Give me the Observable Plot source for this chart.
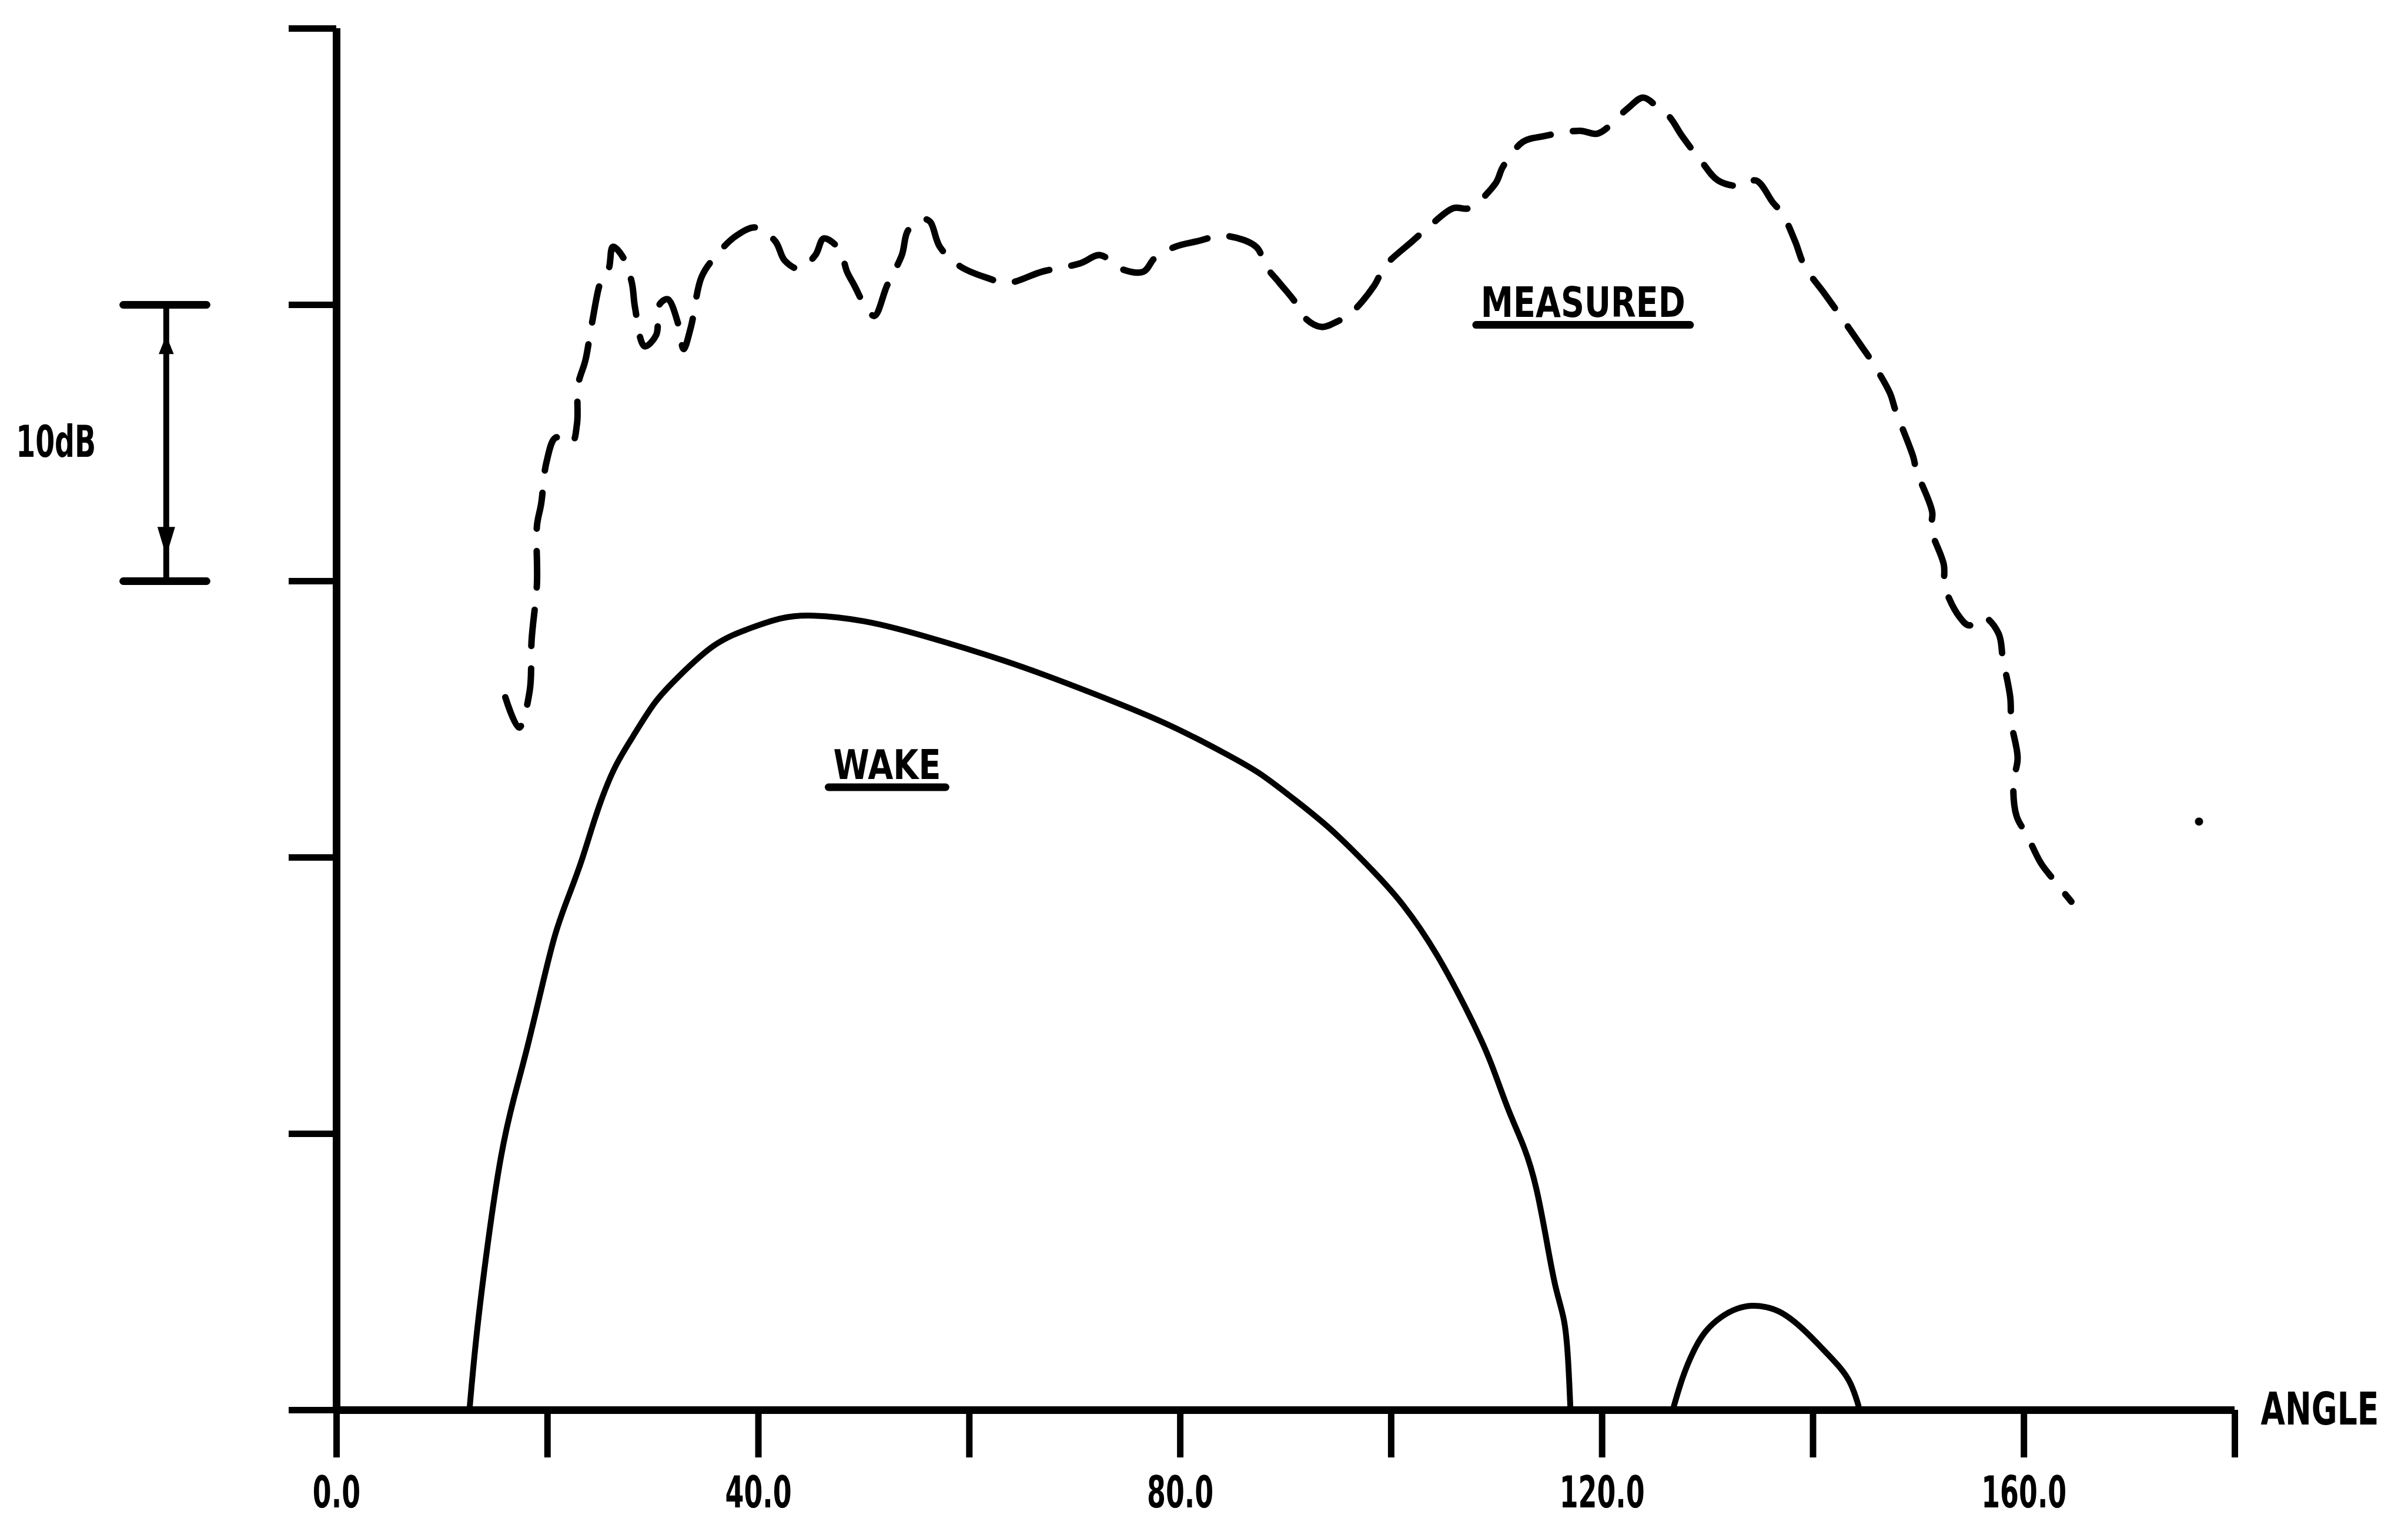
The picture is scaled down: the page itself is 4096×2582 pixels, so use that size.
<!DOCTYPE html>
<html>
<head>
<meta charset="utf-8">
<script src="https://cdn.jsdelivr.net/npm/d3@7"></script>
<script src="https://cdn.jsdelivr.net/npm/@observablehq/plot@0.6"></script>
<style>
  html, body { margin: 0; padding: 0; background: #fff; }
  #chart { width: 4096px; height: 2582px; overflow: hidden; }
  #chart svg { display: block; overflow: visible; }
</style>
</head>
<body>
<div id="chart"></div>
<script>
// Angle (degrees) and level (dB above the baseline of the plot).
const angleTicks = [0, 20, 40, 60, 80, 100, 120, 140, 160, 180];
const angleLabels = [0, 40, 80, 120, 160];
const levelTicks = [0, 10, 20, 30, 40, 50];

// Measured level against angle: [angle, dB]
const measured = [
  [16.0, 25.8], [17.3, 24.7], [18.3, 26.0], [18.5, 27.9], [19.0, 29.9], [19.0, 32.0],
  [19.4, 32.8], [19.9, 34.3], [20.8, 35.2], [22.3, 35.0], [22.8, 35.7], [22.9, 37.1],
  [23.6, 38.0], [24.2, 39.3], [25.1, 40.9], [25.8, 41.3], [26.2, 42.1], [27.2, 41.7],
  [28.0, 40.8], [28.3, 39.9], [29.2, 38.5], [30.3, 38.9], [30.6, 40.0], [31.4, 40.2],
  [32.4, 39.3], [32.9, 38.4], [33.6, 39.2], [34.6, 41.0], [35.8, 41.7], [37.9, 42.5],
  [39.8, 42.8], [41.6, 42.3], [42.5, 41.6], [43.9, 41.3], [45.4, 41.8], [46.2, 42.4],
  [47.7, 42.0], [48.4, 41.2], [49.1, 40.7], [50.2, 39.9], [51.0, 39.6], [52.2, 40.7],
  [53.6, 41.8], [54.2, 42.7], [55.7, 43.1], [56.3, 43.0], [57.2, 42.1], [59.1, 41.4],
  [61.5, 41.0], [63.7, 40.8], [66.9, 41.2], [70.5, 41.5], [72.4, 41.8], [74.4, 41.3],
  [76.5, 41.2], [77.6, 41.7], [79.5, 42.1], [81.6, 42.3], [84.2, 42.5], [87.2, 42.1],
  [88.1, 41.4], [89.4, 40.8], [90.9, 40.1], [91.9, 39.5], [93.4, 39.2], [94.9, 39.4],
  [96.2, 39.7], [98.4, 40.7], [99.4, 41.4], [102.0, 42.3], [103.5, 42.8], [105.9, 43.5],
  [107.4, 43.5], [109.9, 44.4], [110.6, 45.0], [112.5, 45.9], [114.4, 46.1], [117.9, 46.3],
  [119.6, 46.2], [122.4, 47.1], [123.9, 47.5], [125.4, 47.1], [126.4, 46.8], [127.6, 46.1],
  [129.4, 45.2], [131.0, 44.5], [133.1, 44.3], [134.6, 44.5], [136.2, 43.7], [137.1, 43.3],
  [138.3, 42.3], [139.2, 41.4], [141.1, 40.4], [142.6, 39.6], [144.6, 38.5], [145.5, 38.0],
  [147.3, 36.8], [147.8, 36.2], [149.5, 34.5], [149.8, 34.0], [151.3, 32.5], [151.2, 31.9],
  [152.4, 30.6], [152.5, 29.8], [153.9, 28.7], [154.8, 28.4], [156.2, 28.7], [157.6, 28.1],
  [158.0, 27.2], [158.7, 25.8], [158.8, 24.9], [159.4, 23.6], [159.0, 22.7], [159.3, 21.5],
  [160.3, 20.8], [161.6, 19.8], [162.8, 19.2], [164.5, 18.4]
];

// Predicted wake contribution: main lobe and the small side lobe
const wakeMainLobe = [
  [12.6, 0], [13.2, 2.6], [14.3, 6.0], [15.6, 9.4], [16.8, 11.3], [17.9, 12.8],
  [19.4, 15.2], [20.7, 17.3], [22.0, 18.6], [23.3, 19.9], [24.6, 21.6], [26.3, 23.3],
  [28.0, 24.3], [30.2, 25.7], [32.3, 26.5], [35.8, 27.8], [39.2, 28.3], [42.2, 28.7],
  [44.8, 28.8], [50.0, 28.6], [55.1, 28.1], [63.7, 27.1], [69.3, 26.3], [74.0, 25.6],
  [79.1, 24.8], [84.1, 23.8], [87.5, 23.1], [90.8, 22.1], [94.2, 21.1], [98.6, 19.4],
  [101.0, 18.4], [104.3, 16.6], [107.7, 14.1], [109.4, 12.7], [111.1, 10.8], [112.7, 9.5],
  [113.8, 8.1], [114.8, 6.0], [115.6, 4.3], [116.5, 3.3], [116.8, 1.8], [117.0, 0]
];
const wakeSideLobe = [
  [126.7, 0], [127.6, 1.2], [128.7, 2.2], [129.8, 2.9], [131.3, 3.4], [132.8, 3.7],
  [134.2, 3.8], [135.5, 3.75], [136.8, 3.6], [138.3, 3.2], [139.7, 2.7], [141.2, 2.1],
  [142.7, 1.5], [143.6, 1.0], [144.3, 0.2], [144.4, 0]
];

// Stray pen mark on the plot
const penMarks = [[176.6, 21.3]];

// Curve labels (drawn underlined)
const curveLabels = [
  {text: "MEASURED", angle: 108.5, level: 40.05},
  {text: "WAKE", angle: 47.1, level: 23.3}
];

// 10 dB scale bar beside the level axis
const scaleBar = {angle: -16.15, low: 30, high: 40, capFrom: -20.2, capTo: -12.3, label: "10dB", labelAngle: -30.4};

const FONT = '"DejaVu Sans", "Liberation Sans", sans-serif';

// Lettering is narrow, like plotter stencil text: fixed run lengths (px) for
// the labels, and a common squeeze for the angle tick labels.
const letterWidths = new Map([["MEASURED", 348], ["WAKE", 183], ["10dB", 136], ["ANGLE", 201]]);
const tickLabelSqueeze = 0.62;

// Slim filled arrowheads, drawn with the tip at the anchor point
const arrowUp = {
  draw(ctx, size) {
    const r = Math.sqrt(size / Math.PI);
    ctx.moveTo(0, 0); ctx.lineTo(0.8 * r, 2 * r); ctx.lineTo(-0.8 * r, 2 * r); ctx.closePath();
  }
};
const arrowDown = {
  draw(ctx, size) {
    const r = Math.sqrt(size / Math.PI);
    ctx.moveTo(0, 0); ctx.lineTo(0.6 * r, -2 * r); ctx.lineTo(-0.6 * r, -2 * r); ctx.closePath();
  }
};

const A = d => d[0], L = d => d[1];

const chart = Plot.plot({
  width: 4096,
  height: 2582,
  marginLeft: 572,
  marginRight: 295,
  marginTop: 48,
  marginBottom: 184,
  x: {domain: [0, 180], axis: null},
  y: {domain: [0, 50], axis: null},
  style: {background: "white", color: "black", fontFamily: FONT, overflow: "visible"},
  marks: [
    // axes
    Plot.axisX(angleTicks, {tickSize: 81, tickFormat: () => "", strokeWidth: 11, label: null}),
    Plot.axisX(angleLabels, {tickSize: 0, tickPadding: 113, tickFormat: d => d.toFixed(1), fontSize: 74, fontWeight: "bold", label: null}),
    Plot.axisY(levelTicks, {tickSize: 81, tickFormat: () => "", strokeWidth: 11, label: null}),
    Plot.ruleY([0], {x1: 0, x2: 180, strokeWidth: 13}),
    Plot.ruleX([0], {y1: 0, y2: 50, strokeWidth: 13}),
    Plot.text(["ANGLE"], {x: 180, y: 0, dx: 44, text: d => d, textAnchor: "start", lineAnchor: "middle", fontSize: 76, fontWeight: "bold"}),

    // 10 dB scale bar
    Plot.ruleX([scaleBar], {x: "angle", y1: "low", y2: "high", strokeWidth: 10}),
    Plot.ruleY([scaleBar.low, scaleBar.high], {x1: scaleBar.capFrom, x2: scaleBar.capTo, strokeWidth: 13, strokeLinecap: "round"}),
    Plot.dot([scaleBar], {x: "angle", y: d => d.high - 1.1, symbol: arrowUp, r: 16, fill: "black", stroke: "none"}),
    Plot.dot([scaleBar], {x: "angle", y: d => d.low + 0.9, symbol: arrowDown, r: 25, fill: "black", stroke: "none"}),
    Plot.text([scaleBar], {x: "labelAngle", y: d => (d.low + d.high) / 2, text: "label", textAnchor: "start", lineAnchor: "middle", fontSize: 74, fontWeight: "bold"}),

    // curves
    Plot.line(wakeMainLobe, {x: A, y: L, stroke: "black", strokeWidth: 10, curve: "basis", strokeLinejoin: "round"}),
    Plot.line(wakeSideLobe, {x: A, y: L, stroke: "black", strokeWidth: 10, curve: "basis", strokeLinejoin: "round"}),
    Plot.line(measured, {x: A, y: L, stroke: "black", strokeWidth: 11, strokeDasharray: "62,38", strokeLinecap: "round", strokeLinejoin: "round", curve: "catmull-rom"}),
    Plot.dot(penMarks, {x: A, y: L, r: 7, fill: "black", stroke: "none"}),

    // curve labels
    Plot.text(curveLabels, {x: "angle", y: "level", text: "text", fontSize: d => d.text === "WAKE" ? 69 : 71, textAnchor: "start", lineAnchor: "middle", fontWeight: "bold"})
  ]
});

document.getElementById("chart").append(chart);

const svgNS = "http://www.w3.org/2000/svg";

// Narrow a text horizontally about its anchor point by wrapping it in a scaled group
function squeeze(t, width) {
  const r = t.getBoundingClientRect();
  if (!r.width) return;
  const anchor = getComputedStyle(t).textAnchor;
  const ax = anchor === "end" ? r.right : anchor === "middle" ? (r.left + r.right) / 2 : r.left;
  const p = chart.createSVGPoint();
  p.x = ax; p.y = r.top;
  const q = p.matrixTransform(t.parentNode.getScreenCTM().inverse());
  const k = width / r.width;
  const g = document.createElementNS(svgNS, "g");
  g.setAttribute("transform", `translate(${q.x},0) scale(${k},1) translate(${-q.x},0)`);
  t.parentNode.insertBefore(g, t);
  g.appendChild(t);
}

for (const t of Array.from(chart.querySelectorAll("text"))) {
  const s = t.textContent;
  if (!s) continue;
  if (letterWidths.has(s)) squeeze(t, letterWidths.get(s));
  else if (angleLabels.some(a => a.toFixed(1) === s)) squeeze(t, t.getBoundingClientRect().width * tickLabelSqueeze);
}

// Underline the curve labels
const svgBox = chart.getBoundingClientRect();
for (const t of chart.querySelectorAll("text")) {
  if (!curveLabels.some(l => l.text === t.textContent)) continue;
  const b = t.getBoundingClientRect();
  const line = document.createElementNS(svgNS, "line");
  const y = b.bottom - svgBox.top - 3;
  line.setAttribute("x1", b.left - svgBox.left - 8);
  line.setAttribute("x2", b.right - svgBox.left + 8);
  line.setAttribute("y1", y);
  line.setAttribute("y2", y);
  line.setAttribute("stroke", "black");
  line.setAttribute("stroke-width", 13);
  line.setAttribute("stroke-linecap", "round");
  chart.appendChild(line);
}
</script>
</body>
</html>
